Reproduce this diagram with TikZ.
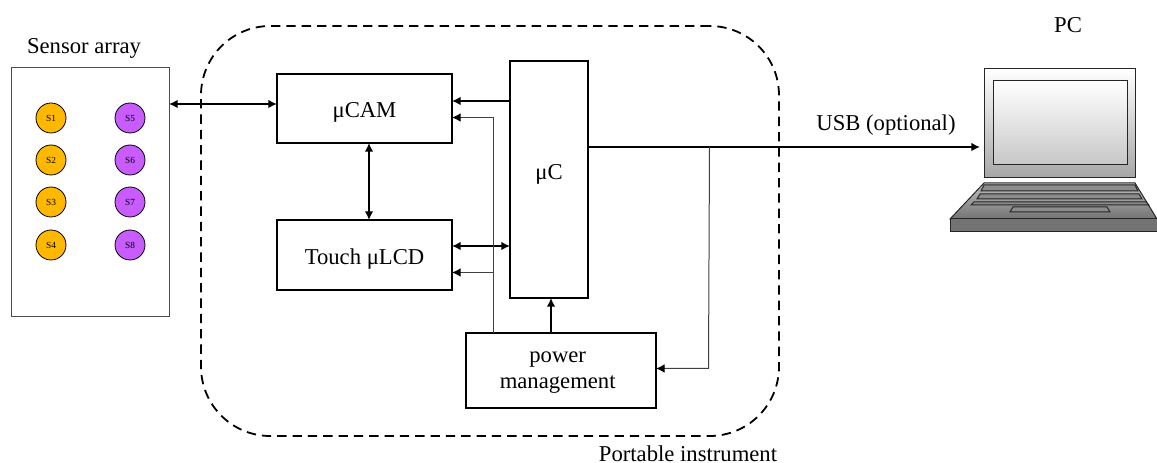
\documentclass[tikz,border=0pt]{standalone}
\usepackage{fontspec}
\setmainfont{Liberation Serif}
\usetikzlibrary{arrows.meta}
\definecolor{sensorA}{RGB}{255,184,0}
\definecolor{sensorB}{RGB}{200,92,255}
\tikzset{
  every node/.style={outer sep=0pt},
  blockbox/.style={draw=black,line width=1.5pt,fill=white,align=center,inner sep=0pt,font=\fontsize{17}{19.5}\selectfont},
  sensorA/.style={circle,draw=black,line width=0.6pt,fill=sensorA,minimum size=22.5pt,inner sep=0pt,font=\fontsize{7}{8}\selectfont},
  sensorB/.style={circle,draw=black,line width=0.6pt,fill=sensorB,minimum size=22.5pt,inner sep=0pt,font=\fontsize{7}{8}\selectfont},
  caption/.style={inner sep=0pt,font=\fontsize{17}{18}\selectfont},
  thick link/.style={line width=1.5pt,-{Latex[length=6.5pt,width=6.5pt]}},
  thick both/.style={line width=1.5pt,{Latex[length=6.5pt,width=6.5pt]}-{Latex[length=6.5pt,width=6.5pt]}},
  thin link/.style={line width=0.75pt,draw=black!75,-{Latex[length=6.5pt,width=6.5pt,black]}},
  laptop line/.style={draw=black!85,line width=0.75pt},
}
\begin{document}
\begin{tikzpicture}[x=0.75pt,y=-0.75pt]
\useasboundingbox (0,0) rectangle (1157,463);
% sensor array
\node[draw=black!70,line width=0.6pt,minimum width=118.5pt,minimum height=186.75pt,inner sep=0pt] (array) at (90,191.5) {};
\node[caption] (arraytitle) at (84,48) {Sensor array};
\node[sensorA] (s1) at (51,118) {S1};
\node[sensorA] (s2) at (51,160) {S2};
\node[sensorA] (s3) at (51,202) {S3};
\node[sensorA] (s4) at (51,245) {S4};
\node[sensorB] (s5) at (130,118) {S5};
\node[sensorB] (s6) at (130,160) {S6};
\node[sensorB] (s7) at (130,202) {S7};
\node[sensorB] (s8) at (130,245) {S8};
% instrument outline
\node[draw=black,line width=1.35pt,dash pattern=on 7pt off 4.5pt,rounded corners=52pt,minimum width=433.5pt,minimum height=307.5pt,inner sep=0pt] (instrument) at (490,231) {};
\node[caption] (instrumenttitle) at (688,454) {Portable instrument};
% blocks
\node[blockbox,minimum width=131.25pt,minimum height=51.75pt,text height=13.5pt,text depth=0pt] (ucam) at (364.5,108.5) {μCAM};
\node[blockbox,minimum width=131.25pt,minimum height=52.5pt,text height=14.2pt,text depth=0pt] (ulcd) at (364.5,255) {Touch μLCD};
\node[blockbox,minimum width=58.5pt,minimum height=177.75pt,text height=10pt,text depth=10pt] (uc) at (549,179.5) {μC};
\node[blockbox,minimum width=142.5pt,minimum height=56.25pt] (power) at (561,370.5) {\hspace*{-5pt}\rule{0pt}{11.5pt}power\\\hspace*{-5pt}management};
% laptop
\coordinate (pcport) at (980,147);
\coordinate (pwrtap) at (709.5,147);
\coordinate (railtop) at (493.5,117.5);
\coordinate (railmid) at (493.5,272.5);
\draw[laptop line,top color=white,bottom color=black!35] (984,69) rectangle (1135,178);
\draw[laptop line,top color=white,bottom color=black!22] (993,81) rectangle (1127,165);
\draw[laptop line,top color=black!25,bottom color=black!55] (984,183) -- (1135,183) -- (1157,219) -- (950,219) -- cycle;
\draw[laptop line,fill=black!55] (950,219) rectangle (1157,232);
\foreach \ya/\yb/\xl/\xr in {185/191/981/1138,194/199/977/1142,202/205/971/1149}{
  \draw[laptop line,fill=black!45] (\xl+3,\ya) -- (\xr-3,\ya) -- (\xr,\yb) -- (\xl,\yb) -- cycle;
}
\draw[laptop line,fill=black!45] (1013,207) -- (1107,207) -- (1110,212) -- (1010,212) -- cycle;
\node[caption] (pc) at (1068,25) {PC};
\node[caption] (usb) at (886,125) {USB (optional)};
% connectors
\draw[thick both] (array.east |- 0,104) -- (ucam.west |- 0,104);
\draw[thick link] (uc.west |- 0,101) -- (ucam.east |- 0,101);
\draw[thick both] (ucam.south -| 369,0) -- (ulcd.north -| 369,0);
\draw[thick both] (ulcd.east |- 0,246) -- (uc.west |- 0,246);
\draw[thick link] (power.north -| 551,0) -- (uc.south -| 551,0);
\draw[thin link] (power.north -| railtop) -- (railtop) -- (ucam.east |- railtop);
\draw[thin link] (railmid) -- (ulcd.east |- railmid);
\draw[thick link] (uc.east |- pcport) -- (pcport);
\draw[thin link] (pwrtap) -- (708.5,368.5) -- (power.east |- 0,368.5);
\end{tikzpicture}
\end{document}
